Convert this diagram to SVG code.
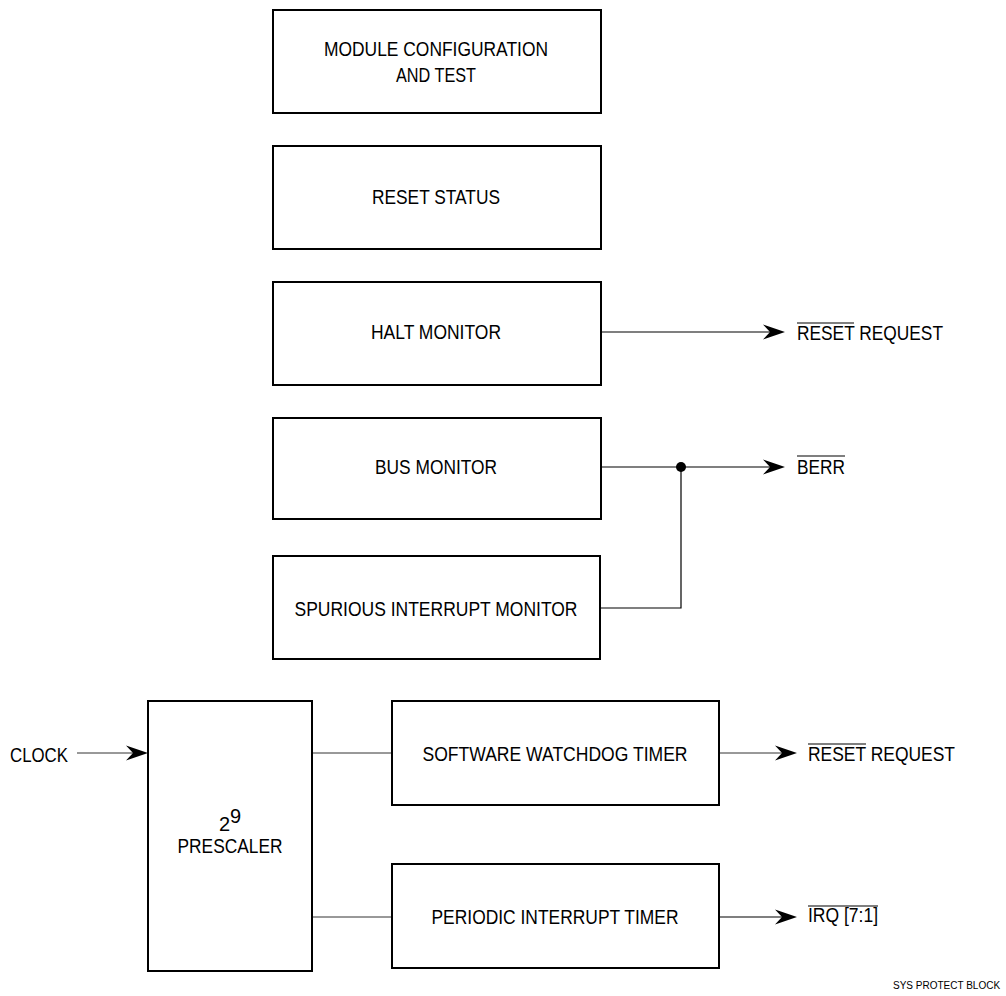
<svg xmlns="http://www.w3.org/2000/svg" width="1006" height="996" viewBox="0 0 1006 996">
<style>
.box{fill:#fff;stroke:#000;stroke-width:2}
.t{font-family:"Liberation Sans",Arial,sans-serif;font-size:20px;fill:#000;text-anchor:middle}
.l{font-family:"Liberation Sans",Arial,sans-serif;font-size:20px;fill:#000}
.w{stroke:#000;stroke-width:1.2;fill:none}
.g{stroke:#333;stroke-width:1;fill:none}
.ob{stroke:#000;stroke-width:1.2}
.ah{fill:#000}
</style>
<defs>
<path id="arr" class="ah" d="M0,0 L-22,-7.5 L-15,0 L-22,7.5 Z"/>
</defs>
<rect width="1006" height="996" fill="#fff"/>
<g id="connectors">
<line class="w" x1="601" y1="332" x2="771" y2="332"/>
<use href="#arr" x="785" y="332"/>
<line class="w" x1="601" y1="467" x2="771" y2="467"/>
<circle cx="681" cy="467" r="5" fill="#000"/>
<polyline class="w" points="600,608 681,608 681,467"/>
<use href="#arr" x="785" y="467"/>
<line class="g" x1="77" y1="753" x2="134" y2="753"/>
<use href="#arr" x="148" y="753"/>
<line class="g" x1="312" y1="753" x2="392" y2="753"/>
<line class="g" x1="312" y1="917" x2="392" y2="917"/>
<line class="g" x1="719" y1="753" x2="783" y2="753"/>
<use href="#arr" x="797" y="753"/>
<line class="w" x1="719" y1="917" x2="783" y2="917"/>
<use href="#arr" x="797" y="917"/>
</g>
<g id="module-config">
<rect class="box" x="273" y="10" width="328" height="103"/>
<text class="t" x="436" y="56" textLength="224" lengthAdjust="spacingAndGlyphs">MODULE CONFIGURATION</text>
<text class="t" x="436" y="82" textLength="80" lengthAdjust="spacingAndGlyphs">AND TEST</text>
</g>
<g id="reset-status">
<rect class="box" x="273" y="146" width="328" height="103"/>
<text class="t" x="436" y="204" textLength="128" lengthAdjust="spacingAndGlyphs">RESET STATUS</text>
</g>
<g id="halt-monitor">
<rect class="box" x="273" y="282" width="328" height="103"/>
<text class="t" x="436" y="339" textLength="130" lengthAdjust="spacingAndGlyphs">HALT MONITOR</text>
</g>
<g id="bus-monitor">
<rect class="box" x="273" y="418" width="328" height="101"/>
<text class="t" x="436" y="474" textLength="122" lengthAdjust="spacingAndGlyphs">BUS MONITOR</text>
</g>
<g id="spurious-monitor">
<rect class="box" x="273" y="556" width="327" height="103"/>
<text class="t" x="436" y="616" textLength="283" lengthAdjust="spacingAndGlyphs">SPURIOUS INTERRUPT MONITOR</text>
</g>
<g id="prescaler">
<rect class="box" x="148" y="701" width="164" height="270"/>
<text class="t" x="230" y="831"><tspan>2</tspan><tspan dy="-8">9</tspan></text>
<text class="t" x="230" y="853" textLength="105" lengthAdjust="spacingAndGlyphs">PRESCALER</text>
</g>
<g id="sw-watchdog">
<rect class="box" x="392" y="701" width="327" height="104"/>
<text class="t" x="555" y="761" textLength="265" lengthAdjust="spacingAndGlyphs">SOFTWARE WATCHDOG TIMER</text>
</g>
<g id="pit">
<rect class="box" x="392" y="864" width="327" height="104"/>
<text class="t" x="555" y="924" textLength="247" lengthAdjust="spacingAndGlyphs">PERIODIC INTERRUPT TIMER</text>
</g>
<g id="labels">
<text class="l" x="10" y="762" textLength="58" lengthAdjust="spacingAndGlyphs">CLOCK</text>
<text class="l" x="797" y="340" textLength="146" lengthAdjust="spacingAndGlyphs">RESET REQUEST</text>
<line class="ob" x1="797" y1="323" x2="854" y2="323"/>
<text class="l" x="797" y="474" textLength="48" lengthAdjust="spacingAndGlyphs">BERR</text>
<line class="ob" x1="797" y1="456" x2="845" y2="456"/>
<text class="l" x="808" y="761" textLength="147" lengthAdjust="spacingAndGlyphs">RESET REQUEST</text>
<line class="ob" x1="808" y1="744" x2="866" y2="744"/>
<text class="l" x="808" y="922" textLength="70" lengthAdjust="spacingAndGlyphs">IRQ [7:1]</text>
<line class="ob" x1="808" y1="906" x2="878" y2="906"/>
<text class="l" x="893" y="989" style="font-size:10px">SYS PROTECT BLOCK</text>
</g>
</svg>
